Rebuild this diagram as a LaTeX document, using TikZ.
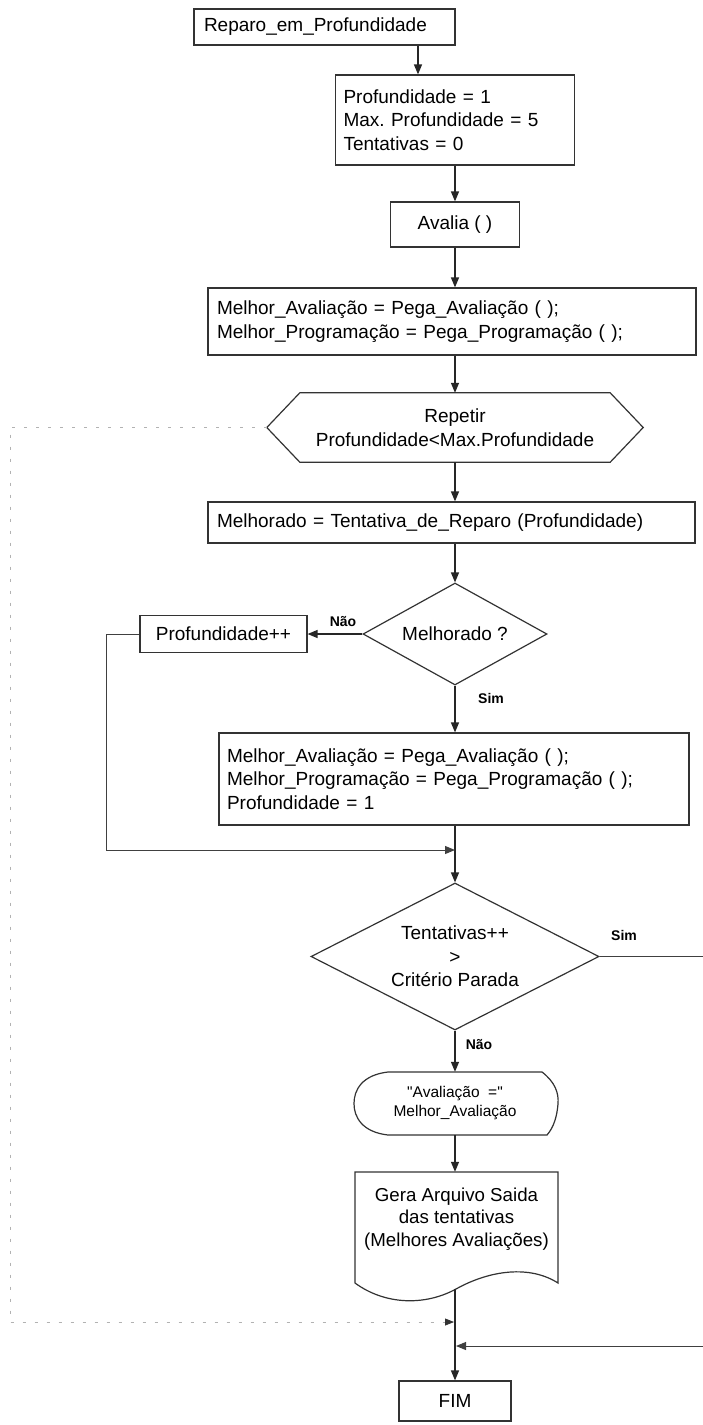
\documentclass[tikz,border=0pt]{standalone}
\usepackage{fontspec}
\setmainfont{Liberation Sans}
% same face without the TeX character mapping, so that " stays a straight quote
\newfontfamily\straightq{Liberation Sans}[Ligatures=ResetAll]
\usetikzlibrary{arrows.meta,shapes.geometric,calc}
\frenchspacing
\begin{document}
\begin{tikzpicture}[x=1pt,y=-1pt,
  every node/.style={font=\fontsize{19}{23.5}\selectfont},
  box/.style={draw=black!80, line width=1.2pt, rectangle, inner sep=0pt, align=center},
  lbox/.style={draw=black!80, line width=1.2pt, rectangle, inner ysep=0pt, align=left},
  plain/.style={inner sep=0pt, align=center},
  decision/.style={diamond, draw=black!80, line width=1.2pt, inner sep=0pt, align=center},
  outline/.style={draw=black!80, line width=1.2pt},
  arr/.style={draw=black!85, line width=1.3pt, -{Triangle[length=10pt,width=8pt]}},
  backarr/.style={draw=black!75, line width=1pt, -{Triangle[length=10pt,width=8pt]}},
  faint/.style={draw=black!30, line width=0.8pt, dash pattern=on 3pt off 9pt,
                -{Triangle[length=9pt,width=7pt,color=black!80]}},
  lbl/.style={inner sep=0pt, font=\fontsize{14}{16}\selectfont\bfseries}
]
\useasboundingbox (0,0) rectangle (703,1425);
\fill[white] (0,0) rectangle (703,1425);

% ---- process steps ----
\node[lbox, text width=241pt, inner xsep=10pt, minimum height=36pt] (start) at (324.5,27) {Reparo\_em\_Profundidade};
\node[lbox, text width=223pt, inner xsep=8pt, minimum height=90pt] (init) at (455,120)
  {Profundidade = 1\\Max. Profundidade = 5\\Tentativas = 0};
\node[box, minimum width=129pt, minimum height=45pt] (aval) at (455,224.5) {Avalia ( )};
\node[lbox, text width=470pt, inner xsep=9pt, minimum height=67pt] (best1) at (452,321.5)
  {Melhor\_Avaliação = Pega\_Avaliação ( );\\Melhor\_Programação = Pega\_Programação ( );};

% ---- loop header (hexagon) ----
\node[plain, minimum width=376pt, minimum height=69pt] (hex) at (455,427.5)
  {Repetir\\Profundidade<Max.Profundidade};
\draw[outline] ($(hex.north west)+(33,0)$) -- ($(hex.north east)+(-33,0)$) -- (hex.east)
  -- ($(hex.south east)+(-33,0)$) -- ($(hex.south west)+(33,0)$) -- (hex.west) -- cycle;

\node[lbox, text width=469pt, inner xsep=9pt, minimum height=41pt] (repair) at (451.5,522.5)
  {Melhorado = Tentativa\_de\_Reparo (Profundidade)};
\node[decision, minimum width=184pt, minimum height=102pt, aspect=1.8] (d1) at (455,634) {Melhorado ?};
\node[box, minimum width=167pt, minimum height=37pt] (inc) at (223.5,634) {Profundidade++};
\node[lbox, text width=454pt, inner xsep=8pt, minimum height=92pt] (best2) at (454,779)
  {Melhor\_Avaliação = Pega\_Avaliação ( );\\Melhor\_Programação = Pega\_Programação ( );\\Profundidade = 1};
\node[decision, minimum width=288pt, minimum height=147pt, aspect=2] (d2) at (455,956.5)
  {Tentativas++\\>\\Critério Parada};

% ---- display symbol ----
\node[plain, minimum width=204pt, minimum height=63pt, font=\fontsize{15.5}{19}\selectfont] (disp) at (455,1103.5)
  {{\straightq"}Avaliação~~={\straightq"}\\Melhor\_Avaliação};
\draw[outline] (388,1072) -- (542,1072)
  .. controls (555,1082) and (559,1093) .. (558,1104)
  .. controls (557,1116) and (554,1127) .. (547,1135)
  -- (388,1135)
  .. controls (362,1132) and (354,1117) .. (354,1103.5)
  .. controls (354,1090) and (362,1075) .. (388,1072) -- cycle;

% ---- document symbol ----
\node[plain, minimum width=203pt, minimum height=94pt, font=\fontsize{18.7}{22.5}\selectfont] (doc) at (456.5,1219)
  {Gera Arquivo Saida\\das tentativas\\(Melhores Avaliações)};
\draw[outline] (355,1283) -- (355,1172) -- (558,1172) -- (558,1283)
  .. controls (530,1265) and (490,1270) .. (456,1289)
  .. controls (425,1306) and (385,1305) .. (355,1283) -- cycle;

\node[box, minimum width=112pt, minimum height=40pt] (fim) at (455,1401) {FIM};

% ---- helper points on the connectors ----
\coordinate (a1) at ([xshift=93.5pt]start.south);
\coordinate (lpc) at (106,850);
\coordinate (join1) at (455,850);
\coordinate (rtop) at (710,956.5);
\coordinate (rbot) at (710,1346);
\coordinate (join2) at (456,1346);
\coordinate (docb) at (455,1289);
\coordinate (lt) at (10,427.5);
\coordinate (lb) at (10,1322);
\coordinate (join3) at (454,1322);

% ---- main flow ----
\draw[arr] (a1) -- (a1 |- init.north);
\draw[arr] (init.south) -- (aval.north);
\draw[arr] (aval.south) -- (aval.south |- best1.north);
\draw[arr] (hex.north |- best1.south) -- (hex.north);
\draw[arr] (hex.south) -- (hex.south |- repair.north);
\draw[arr] (d1.north |- repair.south) -- (d1.north);
\draw[arr] (d1.west) -- (inc.east);
\draw[arr] (d1.south) -- (d1.south |- best2.north);
\draw[arr] (d2.north |- best2.south) -- (d2.north);
\draw[arr] (d2.south) -- (disp.north);
\draw[arr] (disp.south) -- (disp.south |- doc.north);
\draw[arr] (docb) -- (fim.north);

% ---- returning branches ----
\draw[backarr] (inc.west) -| (lpc) -- (join1);
\draw[backarr] (d2.east) -- (rtop) -- (rbot) -- (join2);
\draw[faint] (hex.west) -- (lt) -- (lb) -- (join3);

% ---- branch labels ----
\node[lbl] (nao1) at (343,622) {Não};
\node[lbl] (sim1) at (491,698) {Sim};
\node[lbl] (sim2) at (624,935) {Sim};
\node[lbl] (nao2) at (479,1045) {Não};
\end{tikzpicture}
\end{document}
